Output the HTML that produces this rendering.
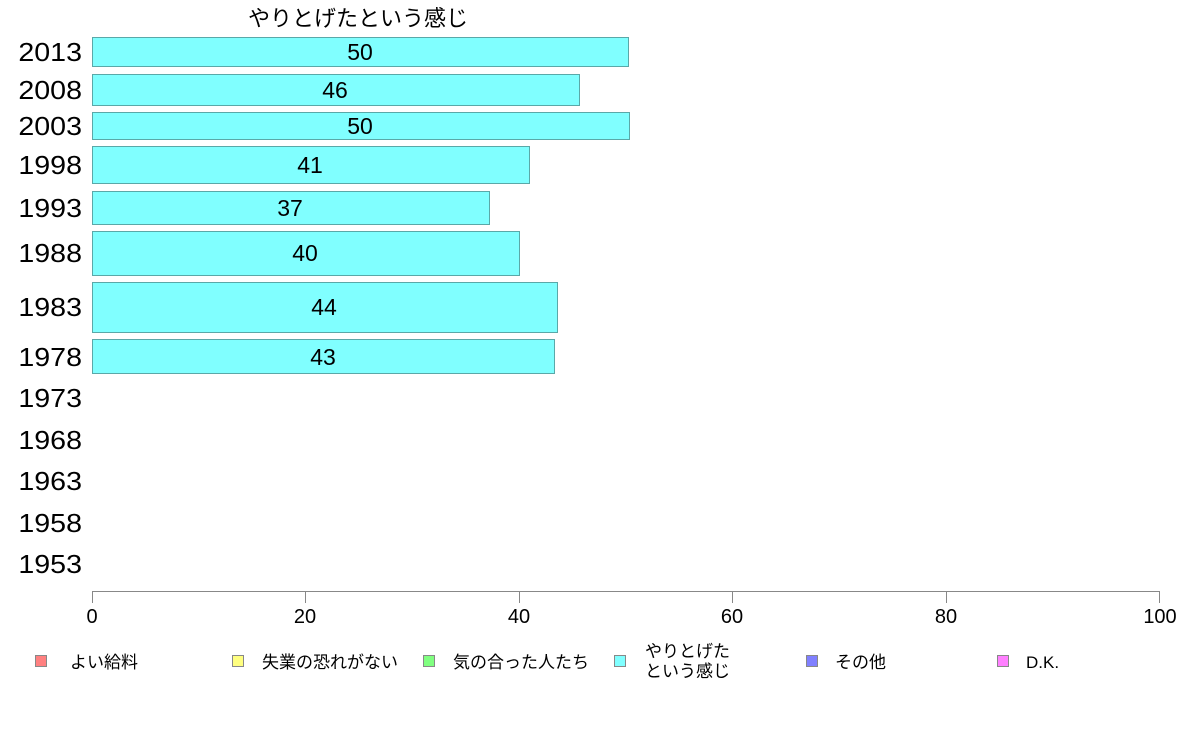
<!DOCTYPE html>
<html><head><meta charset="utf-8"><style>
html,body{margin:0;padding:0;background:#fff;width:1188px;height:736px;overflow:hidden}
text{font-family:"Liberation Sans","Noto Sans CJK JP",sans-serif;fill:#000}
</style></head><body>
<svg width="1188" height="736" xmlns="http://www.w3.org/2000/svg">
<text x="358" y="26" font-size="22" text-anchor="middle">やりとげたという感じ</text>
<g fill="#80ffff" stroke="#5aa8a8" stroke-width="1">
<rect x="92.5" y="37.5" width="536" height="29"/>
<rect x="92.5" y="74.5" width="487" height="31"/>
<rect x="92.5" y="112.5" width="537" height="27"/>
<rect x="92.5" y="146.5" width="437" height="37"/>
<rect x="92.5" y="191.5" width="397" height="33"/>
<rect x="92.5" y="231.5" width="427" height="44"/>
<rect x="92.5" y="282.5" width="465" height="50"/>
<rect x="92.5" y="339.5" width="462" height="34"/>
</g>
<g font-size="23" text-anchor="middle">
<text x="360" y="60">50</text>
<text x="335" y="98">46</text>
<text x="360" y="134">50</text>
<text x="310" y="173">41</text>
<text x="290" y="216">37</text>
<text x="305" y="261">40</text>
<text x="324" y="315">44</text>
<text x="323" y="365">43</text>
</g>
<g font-size="26" text-anchor="end" transform="translate(82,0) scale(1.1,1) translate(-82,0)">
<text x="82" y="61">2013</text>
<text x="82" y="99">2008</text>
<text x="82" y="135">2003</text>
<text x="82" y="174">1998</text>
<text x="82" y="217">1993</text>
<text x="82" y="262">1988</text>
<text x="82" y="316">1983</text>
<text x="82" y="366">1978</text>
<text x="82" y="407">1973</text>
<text x="82" y="449">1968</text>
<text x="82" y="490">1963</text>
<text x="82" y="532">1958</text>
<text x="82" y="573">1953</text>
</g>
<g stroke="#888" stroke-width="1" fill="none">
<line x1="92" y1="591.5" x2="1160" y2="591.5"/>
<line x1="92.5" y1="591" x2="92.5" y2="603"/>
<line x1="305.5" y1="591" x2="305.5" y2="603"/>
<line x1="519.5" y1="591" x2="519.5" y2="603"/>
<line x1="732.5" y1="591" x2="732.5" y2="603"/>
<line x1="946.5" y1="591" x2="946.5" y2="603"/>
<line x1="1159.5" y1="591" x2="1159.5" y2="603"/>
</g>
<g font-size="20" text-anchor="middle">
<text x="92" y="623">0</text>
<text x="305" y="623">20</text>
<text x="519" y="623">40</text>
<text x="732" y="623">60</text>
<text x="946" y="623">80</text>
<text x="1160" y="623">100</text>
</g>
<g stroke="#888" stroke-width="1">
<rect x="35.5" y="655.5" width="11" height="11" fill="#ff8080"/>
<rect x="232.5" y="655.5" width="11" height="11" fill="#ffff80"/>
<rect x="423.5" y="655.5" width="11" height="11" fill="#80ff80"/>
<rect x="614.5" y="655.5" width="11" height="11" fill="#80ffff"/>
<rect x="806.5" y="655.5" width="11" height="11" fill="#8080ff"/>
<rect x="997.5" y="655.5" width="11" height="11" fill="#ff80ff"/>
</g>
<g font-size="17">
<text x="70" y="668">よい給料</text>
<text x="262" y="668">失業の恐れがない</text>
<text x="453" y="668">気の合った人たち</text>
<text x="645" y="657">やりとげた</text>
<text x="645" y="677">という感じ</text>
<text x="835" y="668">その他</text>
<text x="1026" y="668">D.K.</text>
</g>
</svg>
</body></html>
